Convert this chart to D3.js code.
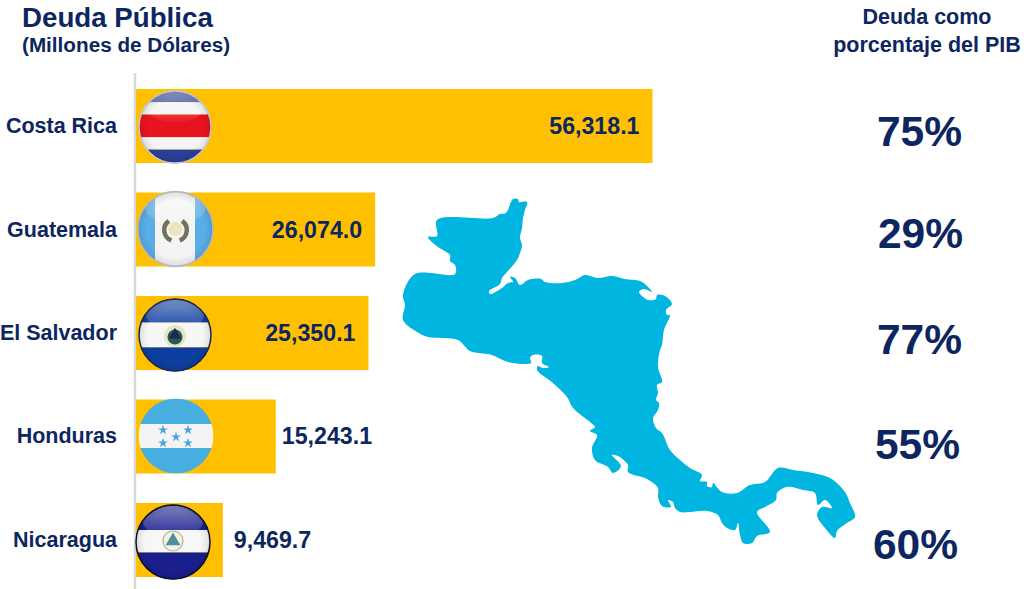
<!DOCTYPE html>
<html><head><meta charset="utf-8">
<script src="https://cdn.jsdelivr.net/npm/d3@7/dist/d3.min.js"></script>
<style>html,body{margin:0;padding:0;background:#fff;overflow:hidden}svg{display:block}text{font-family:"Liberation Sans",Arial,sans-serif;font-weight:700}</style>
</head><body><script>
const countries=["Costa Rica","Guatemala","El Salvador","Honduras","Nicaragua"];
const debtValues=[56318.1,26074.0,25350.1,15243.1,9469.7];
const gdpShare=[75,29,77,55,60];
const titleMain="Deuda Pública", titleSub="(Millones de Dólares)";
const rightHeader=["Deuda como","porcentaje del PIB"];
const mapOutline=[[513,199],[518,199],[519,202],[527,202],[525,210],[523,218],[522,228],[520,238],[522,245],[520,253],[517,260],[507,272],[502,278],[500,284],[489,291],[490,294],[502,288],[508,283],[513,282],[510,277],[515,278],[520,285],[528,280],[541,279],[545,282],[562,283],[575,280],[585,275],[598,278],[612,276],[625,279],[640,281],[646,285],[652,292],[644,289],[639,292],[648,300],[656,299],[657,295],[665,296],[672,304],[666,310],[667,315],[670,315],[664,330],[662,345],[660,350],[658,367],[662,382],[657,385],[658,393],[656,400],[659,403],[658,410],[653,418],[656,428],[662,433],[670,450],[680,460],[690,468],[702,475],[700,481],[707,482],[707,486],[712,487],[713,483],[722,492],[737,493],[750,485],[765,482],[778,468],[793,470],[813,473],[830,478],[845,492],[850,503],[855,517],[847,523],[837,531],[835,538],[825,528],[817,515],[822,507],[832,508],[825,500],[818,505],[815,493],[803,490],[787,487],[777,493],[776,500],[765,507],[757,512],[770,532],[757,536],[752,543],[743,543],[740,535],[738,523],[735,530],[727,528],[722,523],[718,515],[707,511],[690,512],[680,512],[675,508],[673,502],[668,500],[671,507],[662,506],[658,497],[658,488],[647,479],[628,472],[628,465],[618,456],[612,455],[621,466],[613,473],[608,467],[595,460],[592,448],[597,435],[590,431],[595,427],[590,422],[573,408],[567,397],[553,383],[537,370],[538,366],[543,368],[549,367],[542,363],[542,356],[533,355],[530,358],[531,363],[508,362],[492,355],[470,351],[458,340],[428,337],[417,332],[403,320],[405,305],[403,295],[415,274],[455,274],[455,265],[450,261],[450,255],[438,247],[428,237],[437,236],[437,220],[493,218],[500,214],[506,213]];

const W=1024,H=589,navy="#0d2660",amber="#ffc000";
const svg=d3.select("body").append("svg").attr("width",W).attr("height",H);
const defs=svg.append("defs");
const x=d3.scaleLinear().domain([0,56318.1]).range([136,652.5]);
const y=d3.scaleBand().domain(countries).range([89,577]).paddingInner(0.285);
const fmt=d3.format(",.1f");

const gloss=defs.append("radialGradient").attr("id","edge").attr("cx","50%").attr("cy","50%").attr("r","50%");
gloss.selectAll("stop").data([[0.75,"#000",0],[0.94,"#000",0.08],[1,"#000",0.32]]).join("stop")
 .attr("offset",d=>d[0]).attr("stop-color",d=>d[1]).attr("stop-opacity",d=>d[2]);
const shine=defs.append("linearGradient").attr("id","shine").attr("x1",0).attr("x2",0).attr("y1",0).attr("y2",1);
shine.selectAll("stop").data([[0,"#fff",0.45],[1,"#fff",0.04]]).join("stop")
 .attr("offset",d=>d[0]).attr("stop-color",d=>d[1]).attr("stop-opacity",d=>d[2]);

svg.append("line").attr("x1",135).attr("x2",135).attr("y1",73).attr("y2",H).attr("stroke","#d9d9d9").attr("stroke-width",2.5);

svg.selectAll("rect.bar").data(debtValues).join("rect").attr("class","bar")
 .attr("x",x(0)).attr("y",(d,i)=>y(countries[i])).attr("width",d=>x(d)-x(0)).attr("height",y.bandwidth()).attr("fill",amber);

svg.append("path").attr("d",d3.line().curve(d3.curveCatmullRomClosed.alpha(0.5))(mapOutline)).attr("fill","#00b6e0");

const flagCfg=[
 {c:[175,127],r:36.5,rim:"#c9c9d0",stripes:[[0,.16,"#2c3f96"],[.16,.33,"#f4f4f4"],[.33,.64,"#e8131e"],[.64,.81,"#f4f4f4"],[.81,1,"#2c3f96"]],dir:"h"},
 {c:[175.5,229],r:38,rim:"#b9b9b9",stripes:[[0,.23,"#5aaee8"],[.23,.757,"#f4f4f4"],[.757,1,"#5aaee8"]],dir:"v"},
 {c:[175,335],r:36.5,rim:"#1a2a55",stripes:[[0,.33,"#0e3fa0"],[.33,.67,"#f6f6f6"],[.67,1,"#0e3fa0"]],dir:"h"},
 {c:[176,436],r:37.5,rim:"#4aaee0",stripes:[[0,.34,"#47aee0"],[.34,.66,"#f4f4f4"],[.66,1,"#47aee0"]],dir:"h",flat:true},
 {c:[173,542],r:37.5,rim:"#11112a",stripes:[[0,.34,"#1a1f8e"],[.34,.64,"#f7f7f7"],[.64,1,"#1a1f8e"]],dir:"h"}
];
flagCfg.forEach((f,i)=>{
 const id="clip"+i;
 defs.append("clipPath").attr("id",id).append("circle").attr("cx",f.c[0]).attr("cy",f.c[1]).attr("r",f.r);
 const g=svg.append("g").attr("clip-path",`url(#${id})`);
 const s=d3.scaleLinear().domain([0,1]).range(f.dir==="h"?[f.c[1]-f.r,f.c[1]+f.r]:[f.c[0]-f.r,f.c[0]+f.r]);
 g.selectAll("rect").data(f.stripes).join("rect")
  .attr("x",d=>f.dir==="h"?f.c[0]-f.r:s(d[0])).attr("y",d=>f.dir==="h"?s(d[0]):f.c[1]-f.r)
  .attr("width",d=>f.dir==="h"?2*f.r:s(d[1])-s(d[0])).attr("height",d=>f.dir==="h"?s(d[1])-s(d[0]):2*f.r)
  .attr("fill",d=>d[2]);
 if(!f.flat){
  g.append("ellipse").attr("cx",f.c[0]).attr("cy",f.c[1]-f.r*.55).attr("rx",f.r*.8).attr("ry",f.r*.42).attr("fill","url(#shine)");
  g.append("circle").attr("cx",f.c[0]).attr("cy",f.c[1]).attr("r",f.r).attr("fill","url(#edge)");
  svg.append("circle").attr("cx",f.c[0]).attr("cy",f.c[1]).attr("r",f.r-.5).attr("fill","none").attr("stroke",f.rim).attr("stroke-width",1.5);
 }
});
// Guatemala emblem
(function(){const [cx,cy]=flagCfg[1].c;
 svg.append("circle").attr("cx",cx).attr("cy",cy).attr("r",7).attr("fill","#ece3c0");
 const arc=d3.arc().innerRadius(9).outerRadius(13.5);
 const t=`translate(${cx},${cy+1})`;
 svg.append("path").attr("transform",t).attr("d",arc({startAngle:Math.PI*.2,endAngle:Math.PI*.88})).attr("fill","#6f7558");
 svg.append("path").attr("transform",t).attr("d",arc({startAngle:-Math.PI*.2,endAngle:-Math.PI*.88})).attr("fill","#6f7558");
})();
// El Salvador emblem
(function(){const [cx,cy]=flagCfg[2].c;
 svg.append("circle").attr("cx",cx).attr("cy",cy+1).attr("r",11).attr("fill","#e3e6c6");
 svg.append("circle").attr("cx",cx).attr("cy",cy+2).attr("r",7.5).attr("fill","#2c5a4a");
 svg.append("path").attr("d",d3.symbol(d3.symbolTriangle,70)()).attr("transform",`translate(${cx},${cy})`).attr("fill","#1a2a5a");
})();
// Honduras stars
(function(){const [cx,cy]=flagCfg[3].c;
 const offs=[[-13,-6],[12,-6],[0,1],[-13,7],[12,7]];
 svg.selectAll("path.star").data(offs).join("path").attr("class","star")
  .attr("d",d3.symbol(d3.symbolStar,30)()).attr("transform",d=>`translate(${cx+d[0]},${cy+d[1]})`).attr("fill","#4aa6d8");
})();
// Nicaragua emblem
(function(){const [cx,cy]=flagCfg[4].c;
 svg.append("circle").attr("cx",cx).attr("cy",cy-1).attr("r",10).attr("fill","#f2f2e6").attr("stroke","#b8b88a").attr("stroke-width",1.2);
 svg.append("path").attr("d",d3.symbol(d3.symbolTriangle,95)()).attr("transform",`translate(${cx},${cy-1})`).attr("fill","#4f8f9a");
})();

svg.selectAll("text.cat").data(countries).join("text").attr("class","cat")
 .attr("x",117).attr("y",d=>y(d)+y.bandwidth()/2+7).attr("text-anchor","end").attr("font-size",21.5).attr("fill",navy).text(d=>d);

const inside=d=>d>20000;
const outsideGap=[0,0,0,6,11];
svg.selectAll("text.val").data(debtValues).join("text").attr("class","val")
 .attr("x",(d,i)=>inside(d)?x(d)-13:x(d)+outsideGap[i]).attr("y",(d,i)=>y(countries[i])+y.bandwidth()/2+8)
 .attr("text-anchor",d=>inside(d)?"end":"start").attr("font-size",23.2).attr("fill",navy).text(d=>fmt(d));

const pctY=[146,248,354,459,559],pctX=[919.5,920.5,919.5,917.5,915.5];
svg.selectAll("text.pct").data(gdpShare).join("text").attr("class","pct")
 .attr("x",(d,i)=>pctX[i]).attr("y",(d,i)=>pctY[i]).attr("text-anchor","middle").attr("font-size",42.5).attr("fill",navy).text(d=>d+"%");

svg.append("text").attr("x",22).attr("y",27).attr("font-size",27.7).attr("fill",navy).text(titleMain);
svg.append("text").attr("x",22).attr("y",52).attr("font-size",20.7).attr("fill",navy).text(titleSub);
svg.selectAll("text.rh").data(rightHeader).join("text").attr("class","rh")
 .attr("x",927).attr("y",(d,i)=>24+i*28).attr("text-anchor","middle").attr("font-size",21.5).attr("fill",navy).text(d=>d);
</script></body></html>
